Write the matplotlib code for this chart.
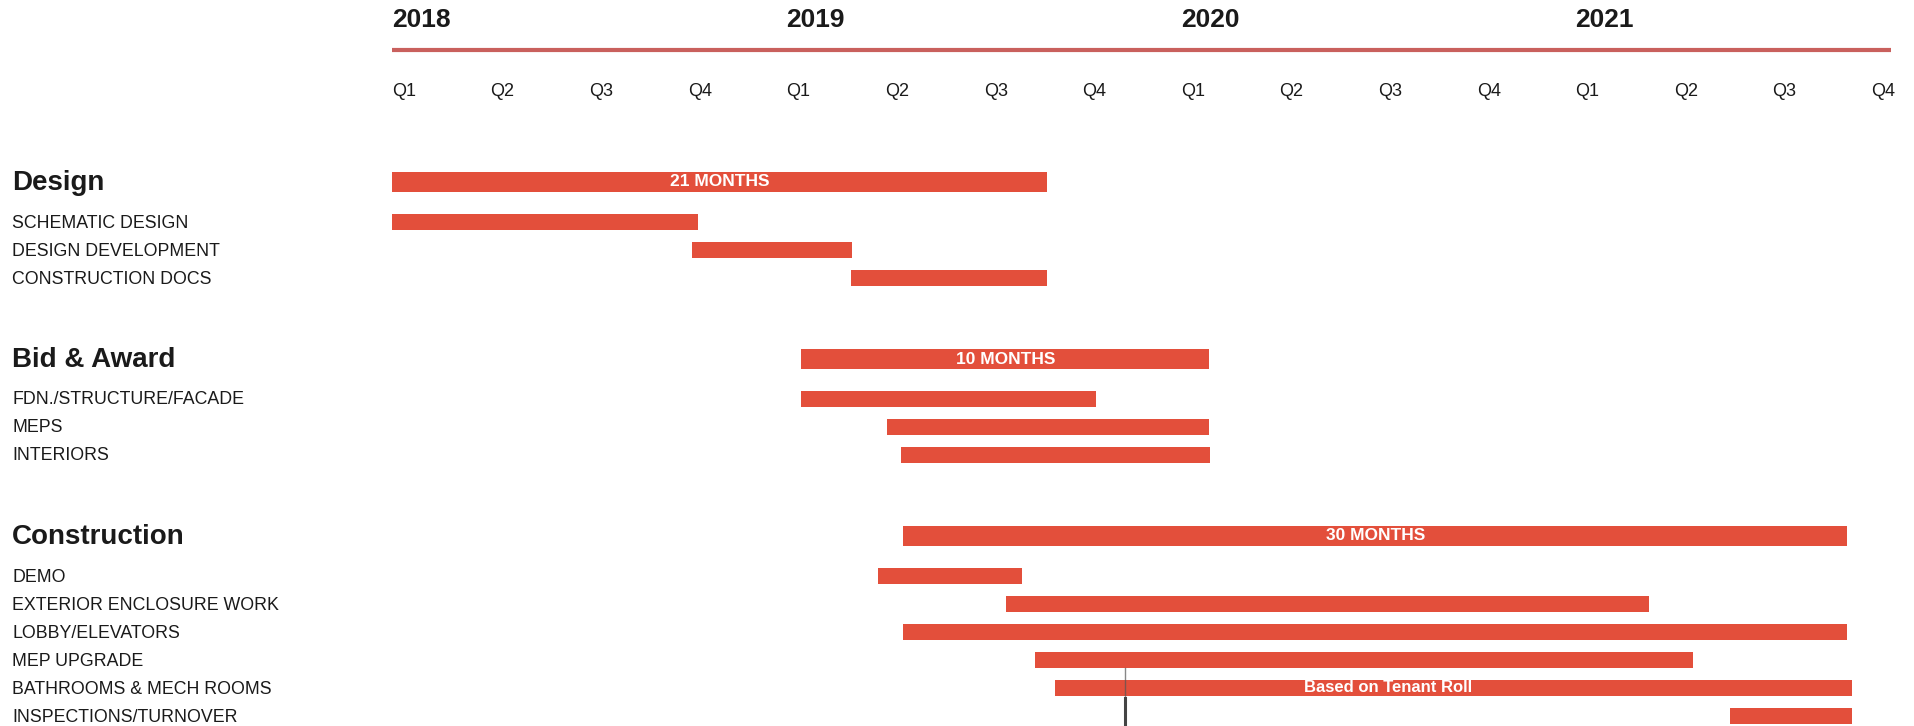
import matplotlib
matplotlib.use('Agg')
import matplotlib.pyplot as plt

plt.rcParams['font.family'] = ['Liberation Sans', 'DejaVu Sans']

# ── data (months counted from Jan 2018) ─────────────────────────────────────
years = ['2018', '2019', '2020', '2021']
quarters = ['Q1', 'Q2', 'Q3', 'Q4']

groups = ['Design', 'Bid & Award', 'Construction']
group_start = [0.0, 12.45, 15.55]
group_end = [19.94, 24.87, 44.28]
group_labels = ['21 MONTHS', '10 MONTHS', '30 MONTHS']

design_tasks = ['SCHEMATIC DESIGN', 'DESIGN DEVELOPMENT', 'CONSTRUCTION DOCS']
design_start = [0.0, 9.14, 13.96]
design_end = [9.31, 14.0, 19.94]

bid_tasks = ['FDN./STRUCTURE/FACADE', 'MEPS', 'INTERIORS']
bid_start = [12.45, 15.07, 15.48]
bid_end = [21.42, 24.87, 24.89]

construction_tasks = ['DEMO', 'EXTERIOR ENCLOSURE WORK', 'LOBBY/ELEVATORS',
                      'MEP UPGRADE', 'BATHROOMS & MECH ROOMS', 'INSPECTIONS/TURNOVER']
construction_start = [14.78, 18.68, 15.55, 19.55, 20.18, 40.72]
construction_end = [19.18, 38.24, 44.28, 39.58, 44.42, 44.42]

note_text = 'Based on Tenant Roll'
note_task = 'BATHROOMS & MECH ROOMS'
note_month = 30.3
marker_month = 22.3
timeline_end = 45.6

tasks = [(design_tasks, design_start, design_end),
         (bid_tasks, bid_start, bid_end),
         (construction_tasks, construction_start, construction_end)]

# ── styling / layout ───────────────────────────────────────────────────────
BAR = '#e34f3b'
LINE = '#c9605d'
TXT = '#1a1a1a'
W, H = 1914, 726
X0_PX, MONTH_PX = 392, 32.87

fig = plt.figure(figsize=(W / 100, H / 100), dpi=100, facecolor='white')
ax = fig.add_axes([0, 0, 1, 1])
ax.set_xlim(-X0_PX / MONTH_PX, (W - X0_PX) / MONTH_PX)
ax.set_ylim(H, 0)
ax.axis('off')
lab = ax.get_yaxis_transform()   # x in axes fraction, y in data
LEFT = 12 / W

# timeline header
ax.plot([0, timeline_end], [50, 50], color=LINE, lw=3, solid_capstyle='butt')
for k, yr in enumerate(years):
    ax.text(12 * k, 20, yr, ha='left', va='center', fontsize=19,
            fontweight='bold', color=TXT)
n_q = len(years) * len(quarters)
for i in range(n_q):
    ax.text(3 * i, 92, quarters[i % 4], ha='left', va='center',
            fontsize=13, color=TXT)

# gantt rows
y = 182
for g, (names, starts, ends) in enumerate(tasks):
    ax.text(LEFT, y + 1, groups[g], transform=lab, ha='left', va='center',
            fontsize=20, fontweight='bold', color=TXT)
    ax.barh(y, group_end[g] - group_start[g], left=group_start[g], height=20,
            color=BAR)
    ax.text((group_start[g] + group_end[g]) / 2, y, group_labels[g],
            ha='center', va='center', fontsize=12.5, fontweight='bold',
            color='white')
    y += 40
    for name, s, e in zip(names, starts, ends):
        ax.text(LEFT, y + 1, name, transform=lab, ha='left', va='center',
                fontsize=12.8, color=TXT)
        ax.barh(y, e - s, left=s, height=15.5, color=BAR)
        if name == note_task:
            ax.text(note_month, y, note_text, ha='center', va='center',
                    fontsize=12, fontweight='bold', color='white')
            note_y = y
        y += 28
    y += 53

# small dark marker running down from the bathrooms bar
ax.plot([marker_month, marker_month], [note_y - 20, note_y + 10],
        color='#555555', lw=1.0, alpha=0.7, zorder=5)
ax.plot([marker_month, marker_month], [note_y + 10, H],
        color='#444444', lw=2.2, zorder=5)

fig.savefig('out.png', dpi=100, facecolor='white')
